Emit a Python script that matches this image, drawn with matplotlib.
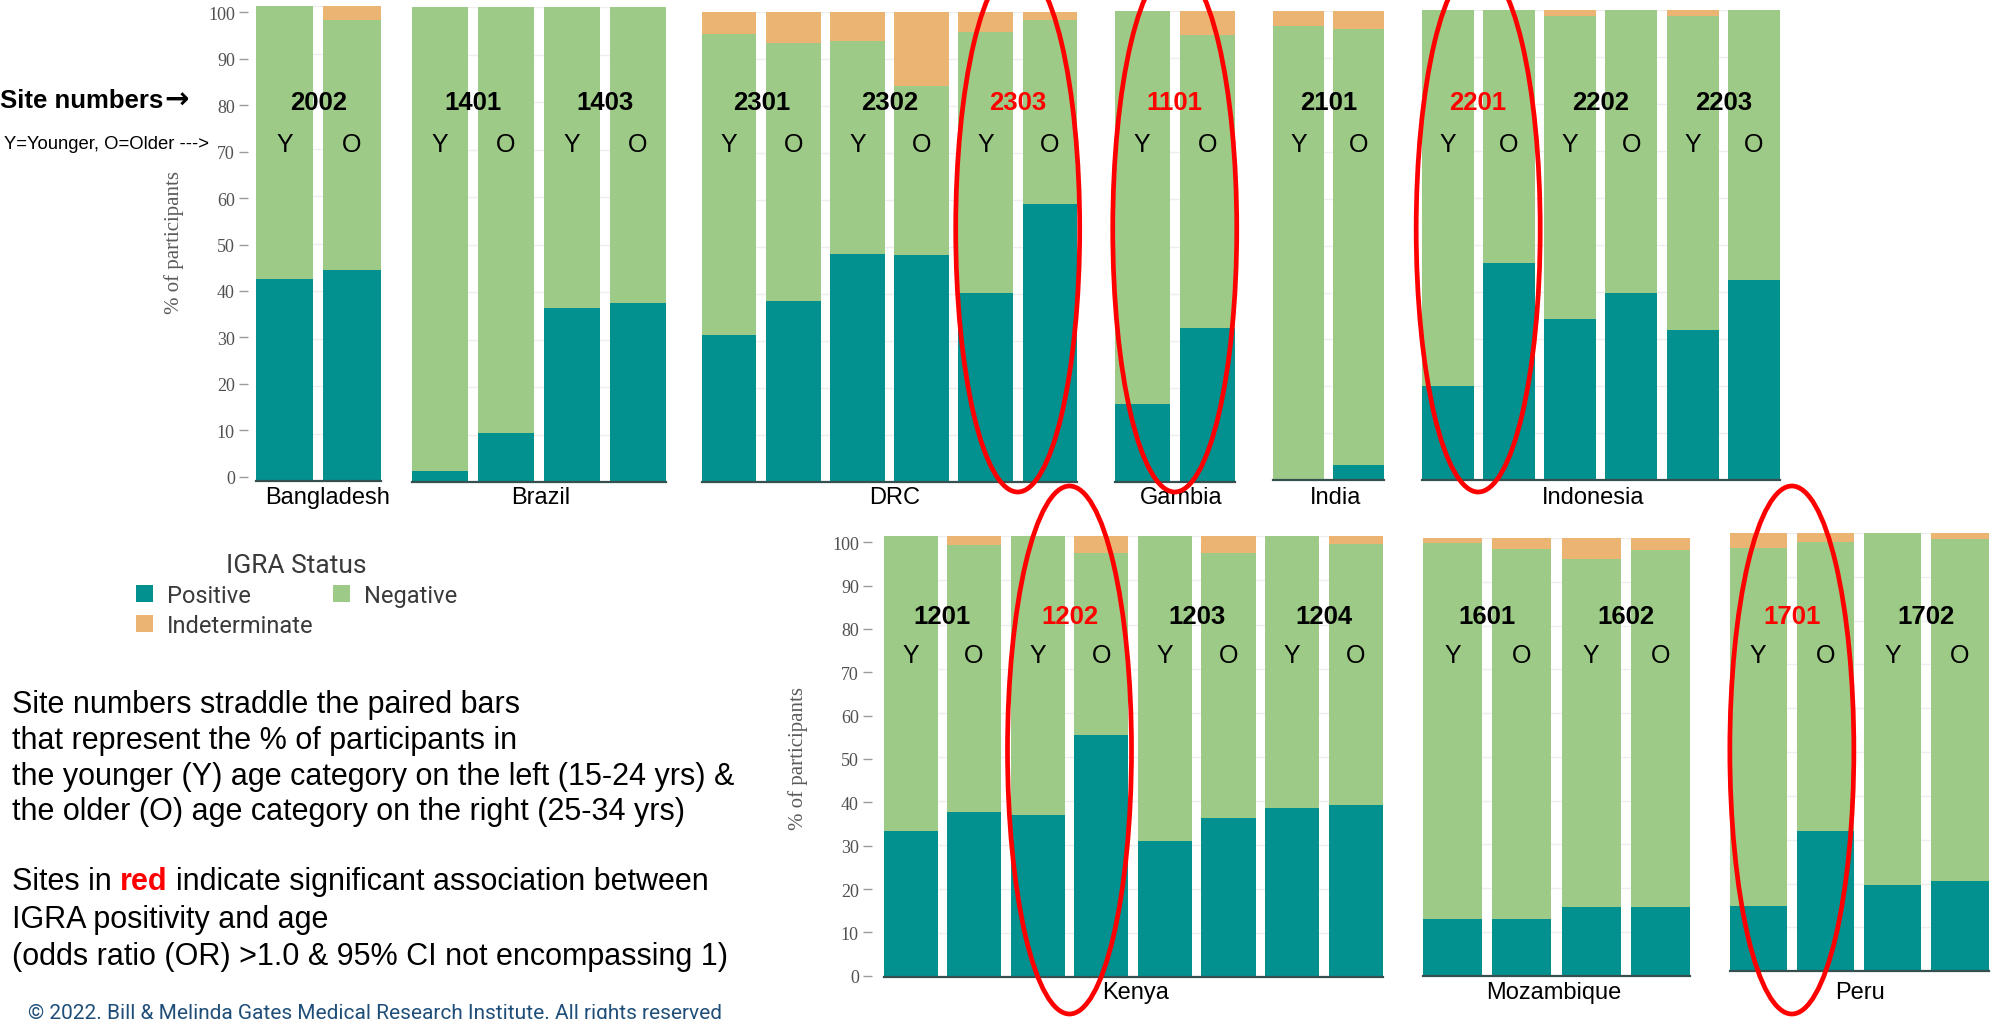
import matplotlib
matplotlib.use("Agg")
import matplotlib.pyplot as plt
import numpy as np
from matplotlib import font_manager
from matplotlib.patches import Ellipse, Patch
from matplotlib.transforms import blended_transform_factory

# ---------------- data ----------------
countries = ["Bangladesh", "Brazil", "DRC", "Gambia", "India", "Indonesia",
             "Kenya", "Mozambique", "Peru"]
country_sites = [["2002"], ["1401", "1403"], ["2301", "2302", "2303"], ["1101"],
                 ["2101"], ["2201", "2202", "2203"],
                 ["1201", "1202", "1203", "1204"], ["1601", "1602"], ["1701", "1702"]]
significant_sites = ["2303", "1101", "2201", "1202", "1701"]
age_labels = ["Y", "O"]

# one value per bar (Y, O for each site, in site order)
positive = [42.5, 44.5,
            2.3, 10.3, 36.6, 37.7,
            31.2, 38.5, 48.5, 48.3, 40.2, 59.2,
            16.6, 32.6,
            0.0, 3.3,
            19.9, 46.1, 34.2, 39.8, 31.9, 42.6,
            33.1, 37.4, 36.7, 54.9, 30.8, 36.2, 38.5, 39.0,
            12.9, 12.9, 15.6, 15.7,
            14.8, 31.9, 19.7, 20.7]
negative = [57.5, 52.7,
            97.7, 89.7, 63.4, 62.3,
            64.2, 54.9, 45.3, 35.9, 55.7, 39.2,
            83.4, 62.4,
            96.8, 93.0,
            80.1, 53.9, 64.5, 60.2, 66.8, 57.4,
            66.9, 60.6, 63.3, 41.4, 69.2, 59.9, 61.5, 59.3,
            85.9, 84.6, 79.7, 81.6,
            81.8, 66.0, 80.3, 77.9]
indeterminate = [0.0, 2.8,
                 0.0, 0.0, 0.0, 0.0,
                 4.6, 6.6, 6.2, 15.8, 4.1, 1.6,
                 0.0, 5.0,
                 3.2, 3.7,
                 0.0, 0.0, 1.3, 0.0, 1.3, 0.0,
                 0.0, 2.0, 0.0, 3.7, 0.0, 3.9, 0.0, 1.7,
                 1.2, 2.5, 4.7, 2.7,
                 3.4, 2.1, 0.0, 1.4]
yticks = list(range(0, 101, 10))
legend_labels = ["Positive", "Indeterminate", "Negative"]

# ---------------- layout / style ----------------
W, H = 1991, 1020
C_POS, C_NEG, C_IND = "#02918f", "#9dcb87", "#ecb472"
SANS = ["Liberation Sans", "DejaVu Sans"]
SERIF = ["Liberation Serif", "DejaVu Serif"]
installed = {f.name for f in font_manager.fontManager.ttflist}
if "Liberation Sans Narrow" in installed:
    NARROW = ["Liberation Sans Narrow", "Liberation Sans", "DejaVu Sans"]
    SITE_FS = 20.5
else:
    NARROW = SANS
    SITE_FS = 18.5

# panel pixel boxes: x0, x1, y_base, y_top
panel_px = [(256, 380.5, 482.3, 7.3), (412, 666, 483.3, 8.3), (702, 1077, 482.7, 13.3),
            (1114.5, 1235, 482.7, 12.3), (1273, 1383.6, 481, 12.3),
            (1421.5, 1780, 480.7, 11.0),
            (883.5, 1382.7, 978.3, 537.3), (1423, 1690, 976.7, 539.0),
            (1729.6, 1988.7, 972.3, 534.0)]
country_label_x = [328, 541, 895, 1181, 1336, 1593, 1136, 1554, 1860]
row_of = [0, 0, 0, 0, 0, 0, 1, 1, 1]
site_y = [103, 617]
age_y = [145, 656]
country_y = [498, 993]
ell_cy = [230, 751]
ell_h = [526, 528]
ell_w = 124
BW = 0.85

fig = plt.figure(figsize=(W / 100, H / 100), dpi=100)

def fy(ypx):
    return 1 - ypx / H

overlay = fig.add_axes([0, 0, 1, 1], zorder=20)
overlay.set_xlim(0, W)
overlay.set_ylim(H, 0)
overlay.axis("off")
overlay.patch.set_alpha(0)

ellipse_centers = []
bar_i = 0
for ci, country in enumerate(countries):
    x0, x1, yb, yt = panel_px[ci]
    ax = fig.add_axes([x0 / W, fy(yb), (x1 - x0) / W, (yb - yt) / H])
    sites = country_sites[ci]
    n = 2 * len(sites)
    xs = np.arange(n)
    p = np.array(positive[bar_i:bar_i + n])
    ng = np.array(negative[bar_i:bar_i + n])
    ind = np.array(indeterminate[bar_i:bar_i + n])
    bar_i += n
    for g in yticks:
        ax.axhline(g, color="#eeeeee", lw=1.0, zorder=0)
    ax.bar(xs, p, width=BW, color=C_POS, zorder=2, linewidth=0)
    ax.bar(xs, ng, width=BW, bottom=p, color=C_NEG, zorder=2, linewidth=0)
    ax.bar(xs, ind, width=BW, bottom=p + ng, color=C_IND, zorder=2, linewidth=0)
    ax.set_xlim(-BW / 2, n - 1 + BW / 2)
    ax.set_ylim(0, 100)
    for s in ["left", "right", "top"]:
        ax.spines[s].set_visible(False)
    ax.spines["bottom"].set_color("#35504f")
    ax.spines["bottom"].set_linewidth(1.6)
    ax.spines["bottom"].set_zorder(3)
    ax.set_xticks([])
    ax.set_yticks([])
    ax.patch.set_alpha(0)
    r = row_of[ci]
    tr = blended_transform_factory(ax.transData, fig.transFigure)
    for k, s in enumerate(sites):
        sig = s in significant_sites
        ax.text(2 * k + 0.5, fy(site_y[r]), s, transform=tr, ha="center", va="center",
                fontsize=SITE_FS, fontweight="bold", family=NARROW,
                color="#ff0000" if sig else "black", zorder=5)
        for a, lab in enumerate(age_labels):
            ax.text(2 * k + a, fy(age_y[r]), lab, transform=tr, ha="center", va="center",
                    fontsize=18, family=SANS, color="black", zorder=5)
        if sig:
            cx = ax.transData.transform((2 * k + 0.5, 0))[0]
            ellipse_centers.append((cx, r))
    fig.text(country_label_x[ci] / W, fy(country_y[r]), country, ha="center", va="center",
             fontsize=17, family=SANS, color="black")

fig.canvas.draw()
renderer = fig.canvas.get_renderer()
for (cx, r) in ellipse_centers:
    overlay.add_patch(Ellipse((cx, ell_cy[r]), ell_w, ell_h[r], fill=False,
                              edgecolor="#ff0000", lw=3.4, clip_on=False))

# y axes (tick scales)
for (xr, y0, y100, labx, laby) in [(248, 477.7, 13.3, 174, 242), (872, 976.7, 543.3, 798, 758)]:
    yax = fig.add_axes([xr / W, fy(y0), 0.0001, (y0 - y100) / H])
    yax.set_ylim(0, 100)
    yax.set_yticks(yticks)
    yax.set_yticklabels([str(t) for t in yticks], family=SERIF)
    yax.set_xticks([])
    for s in yax.spines.values():
        s.set_visible(False)
    yax.patch.set_alpha(0)
    yax.tick_params(axis="y", direction="out", length=6.5, width=1, color="#9a9a9a",
                    labelcolor="#505050", labelsize=13, pad=3)
    fig.text(labx / W, fy(laby), "% of participants", rotation=90, ha="center", va="center",
             fontsize=15, family=SERIF, color="#5a5a5a")

# side annotations
t_sn = fig.text(0 / W, fy(101), "Site numbers", ha="left", va="center", fontsize=SITE_FS,
                fontweight="bold", family=NARROW, color="black")
bb = t_sn.get_window_extent(renderer)
fig.text((bb.x1 + 1) / W, fy(101), "\u2192", ha="left", va="center", fontsize=21,
         fontweight="bold", family=["DejaVu Sans"], color="black")
fig.text(4 / W, fy(145), "Y=Younger, O=Older --->", ha="left", va="center", fontsize=13.3,
         family=SANS, color="black", zorder=6)

# legend
handles = [Patch(facecolor=C_POS), Patch(facecolor=C_IND), Patch(facecolor=C_NEG)]
leg = fig.legend(handles, legend_labels, ncol=2, title="IGRA Status", frameon=False,
                 loc="upper left", bbox_to_anchor=(136 / W, fy(554)),
                 prop={"family": "Roboto", "size": 17},
                 title_fontproperties={"family": "Roboto", "size": 19},
                 handlelength=0.72, handleheight=0.72, handletextpad=0.6,
                 columnspacing=0.8, labelspacing=0.3, borderpad=0, borderaxespad=0)
for t in leg.get_texts():
    t.set_color("#3a3a3a")
leg.get_title().set_color("#3a3a3a")

# explanatory text
body_fs = 22
tx = 12 / W
lines1 = ["Site numbers straddle the paired bars",
          "that represent the % of participants in",
          "the younger (Y) age category on the left (15-24 yrs) &",
          "the older (O) age category on the right (25-34 yrs)"]
ys1 = [705, 741, 777, 812]
for s, y in zip(lines1, ys1):
    fig.text(tx, fy(y), s, ha="left", va="center", fontsize=body_fs, family=SANS, color="black")

t1 = fig.text(tx, fy(882), "Sites in", ha="left", va="center", fontsize=body_fs, family=SANS, color="black")
tmp_a = fig.text(0, 0, "i i", fontsize=body_fs, family=SANS)
tmp_b = fig.text(0, 0, "ii", fontsize=body_fs, family=SANS)
sp = tmp_a.get_window_extent(renderer).width - tmp_b.get_window_extent(renderer).width
tmp_a.remove(); tmp_b.remove()
bb1 = t1.get_window_extent(renderer)
t2 = fig.text((bb1.x1 + sp) / W, fy(882), "red", ha="left", va="center", fontsize=body_fs,
              family=SANS, color="#ff0000", fontweight="bold")
bb2 = t2.get_window_extent(renderer)
fig.text((bb2.x1 + sp) / W, fy(882), "indicate significant association between", ha="left",
         va="center", fontsize=body_fs, family=SANS, color="black")
fig.text(tx, fy(920), "IGRA positivity and age", ha="left", va="center", fontsize=body_fs,
         family=SANS, color="black")
fig.text(tx, fy(957), "(odds ratio (OR) >1.0 & 95% CI not encompassing 1)", ha="left", va="center",
         fontsize=body_fs, family=SANS, color="black")

fig.text(28 / W, fy(1019), "\u00a9 2022. Bill & Melinda Gates Medical Research Institute. All rights reserved",
         ha="left", va="baseline", fontsize=15, family=["Roboto", "DejaVu Sans"], color="#1f4e79")

fig.savefig("out.png", dpi=100)
